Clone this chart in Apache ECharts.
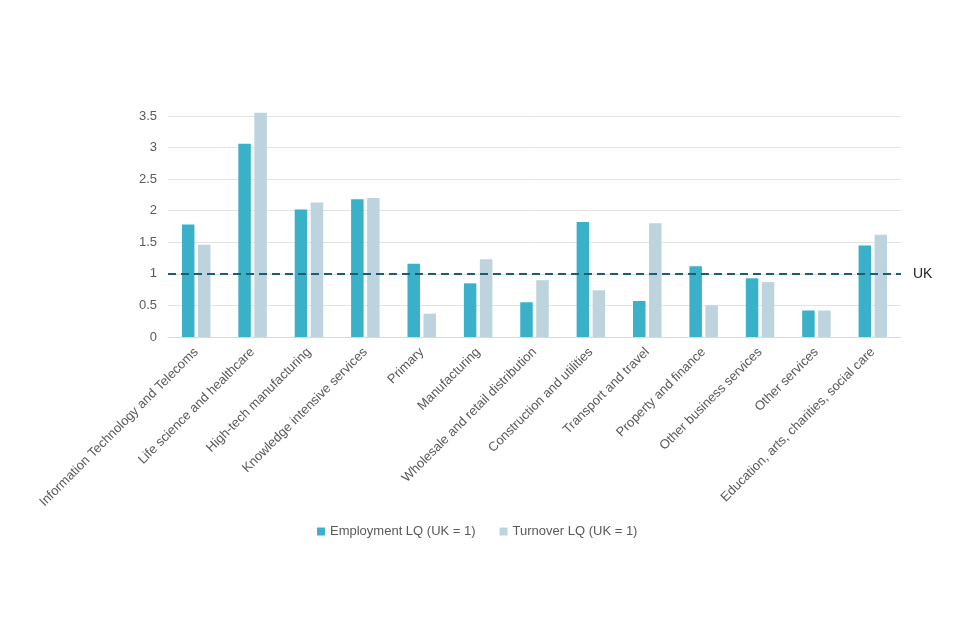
<!DOCTYPE html>
<html>
<head>
<meta charset="utf-8">
<script src="https://cdn.jsdelivr.net/npm/echarts@6/dist/echarts.min.js"></script>
<style>html,body{margin:0;padding:0;background:#fff}#c{width:960px;height:640px}</style>
</head>
<body>
<div id="c"></div>
<script>
const categories = [
  "Information Technology and Telecoms",
  "Life science and healthcare",
  "High-tech manufacturing",
  "Knowledge intensive services",
  "Primary",
  "Manufacturing",
  "Wholesale and retail distribution",
  "Construction and utilities",
  "Transport and travel",
  "Property and finance",
  "Other business services",
  "Other services",
  "Education, arts, charities, social care"
];
const employmentLQ = [1.78, 3.06, 2.02, 2.18, 1.16, 0.85, 0.55, 1.82, 0.57, 1.12, 0.93, 0.42, 1.45];
const turnoverLQ   = [1.46, 3.55, 2.13, 2.20, 0.37, 1.23, 0.90, 0.74, 1.80, 0.50, 0.87, 0.42, 1.62];
const ukLevel = 1;

const chart = echarts.init(document.getElementById('c'));
chart.setOption({
  animation: false,
  textStyle: { fontFamily: 'Liberation Sans, Arial, sans-serif' },
  grid: { left: 168, right: 59, top: 116, bottom: 303 },
  legend: {
    bottom: 97,
    left: 312,
    itemWidth: 8, itemHeight: 8, itemGap: 24,
    icon: 'rect',
    textStyle: { fontSize: 13, color: '#595959' },
    data: ['Employment LQ (UK = 1)', 'Turnover LQ (UK = 1)']
  },
  xAxis: {
    type: 'category',
    data: categories,
    axisLine: { lineStyle: { color: '#d9d9d9' } },
    axisTick: { show: false },
    axisLabel: { rotate: 45, interval: 0, fontSize: 13, color: '#595959', margin: 13 }
  },
  yAxis: {
    type: 'value',
    min: 0, max: 3.5, interval: 0.5,
    axisLine: { show: false },
    axisTick: { show: false },
    axisLabel: { fontSize: 13, color: '#595959', margin: 11 },
    splitLine: { lineStyle: { color: '#e3e3e3' } }
  },
  series: [
    {
      name: 'Employment LQ (UK = 1)',
      type: 'bar',
      data: employmentLQ,
      clip: false,
      barWidth: 12.5,
      barGap: '28%',
      itemStyle: { color: '#3AB1C8' },
      markLine: {
        symbol: 'none',
        silent: true,
        lineStyle: { color: '#1B5E72', type: [8, 5], width: 2 },
        label: { position: 'end', formatter: 'UK', color: '#222', fontSize: 14, distance: 12 },
        data: [{ yAxis: ukLevel }]
      }
    },
    {
      name: 'Turnover LQ (UK = 1)',
      type: 'bar',
      data: turnoverLQ,
      clip: false,
      barWidth: 12.5,
      itemStyle: { color: '#BDD4DE' }
    }
  ]
});
</script>
</body>
</html>
